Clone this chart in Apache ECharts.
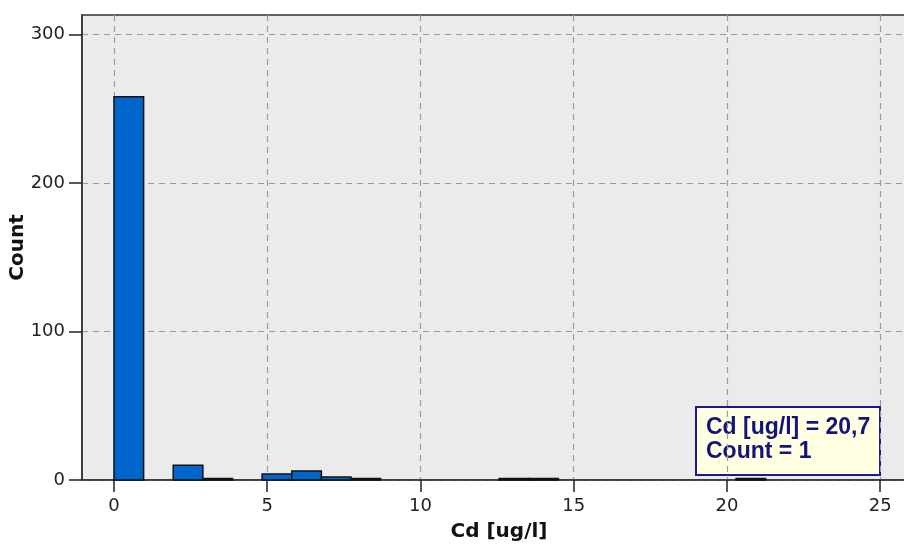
<!DOCTYPE html>
<html>
<head>
<meta charset="utf-8">
<script src="https://cdn.jsdelivr.net/npm/echarts@6/dist/echarts.min.js"></script>
<style>html,body{margin:0;padding:0;background:#fff}#c{width:904px;height:544px}</style>
</head>
<body>
<div id="c"></div>
<script>
// Histogram of Cd [ug/l]
const binWidth = 0.9667;
const binStarts = [0, 1.933, 2.900, 4.833, 5.800, 6.767, 7.733, 12.567, 13.533, 20.300];
const counts    = [258, 10, 1, 4, 6, 2, 1, 1, 1, 1];
const xTicks = [0, 5, 10, 15, 20, 25];
const yTicks = [0, 100, 200, 300];
const xTitle = 'Cd [ug/l]';
const yTitle = 'Count';
const boxLines = ['Cd [ug/l] = 20,7', 'Count = 1'];

const data = binStarts.map((s, i) => [s, s + binWidth, counts[i]]);

const chart = echarts.init(document.getElementById('c'), null, {renderer: 'canvas'});
chart.setOption({
  animation: false,
  backgroundColor: '#ffffff',
  grid: {
    left: 82, right: -12, top: 15, bottom: 64,
    containLabel: false, outerBoundsMode: 'none',
    show: true, backgroundColor: '#ebebeb', borderColor: '#333333', borderWidth: 1.5
  },
  xAxis: {
    type: 'value', min: -1.044, max: 26.17,
    name: xTitle, nameLocation: 'middle', nameGap: 42,
    nameTextStyle: {fontFamily: 'DejaVu Sans', fontWeight: 'bold', fontSize: 20, color: '#111'},
    axisLine: {show: true, onZero: false, lineStyle: {color: '#333', width: 1.5}},
    axisTick: {show: true, length: 12, customValues: xTicks, lineStyle: {color: '#222', width: 1.5}},
    axisLabel: {customValues: xTicks, margin: 17, fontFamily: 'DejaVu Sans', fontSize: 18, color: '#222'},
    splitLine: {show: true, lineStyle: {color: '#999', type: [6, 5], width: 1.2}}
  },
  yAxis: {
    type: 'value', min: 0, max: 313,
    name: yTitle, nameLocation: 'middle', nameGap: 54, nameRotate: 90, nameMoveOverlap: false,
    nameTextStyle: {fontFamily: 'DejaVu Sans', fontWeight: 'bold', fontSize: 20, color: '#111'},
    axisLine: {show: true, onZero: false, lineStyle: {color: '#333', width: 1.5}},
    axisTick: {show: true, length: 13, customValues: yTicks, lineStyle: {color: '#222', width: 1.5}},
    axisLabel: {customValues: yTicks, margin: 17, fontFamily: 'DejaVu Sans', fontSize: 18, color: '#222'},
    splitLine: {show: true, lineStyle: {color: '#999', type: [6, 5], width: 1.2}}
  },
  series: [{
    type: 'custom',
    data: data,
    encode: {x: [0, 1], y: 2},
    renderItem: function (params, api) {
      const p0 = api.coord([api.value(0), 0]);
      const p1 = api.coord([api.value(1), api.value(2)]);
      return {
        type: 'rect',
        shape: {x: p0[0], y: p1[1], width: p1[0] - p0[0], height: p0[1] - p1[1]},
        style: {fill: '#0066cc', stroke: '#111', lineWidth: 1.5}
      };
    }
  }],
  graphic: [{
    type: 'group', left: 695, top: 406,
    children: [
      {type: 'rect', shape: {x: 0, y: 0, width: 184, height: 68},
       style: {fill: '#ffffe1', stroke: '#1a1a8a', lineWidth: 2}},
      {type: 'text', x: 10, y: 9,
       style: {text: boxLines.join('\n'), fill: '#14147a', font: 'bold 23px "Liberation Sans"', lineHeight: 24}}
    ]
  }]
});
</script>
</body>
</html>
